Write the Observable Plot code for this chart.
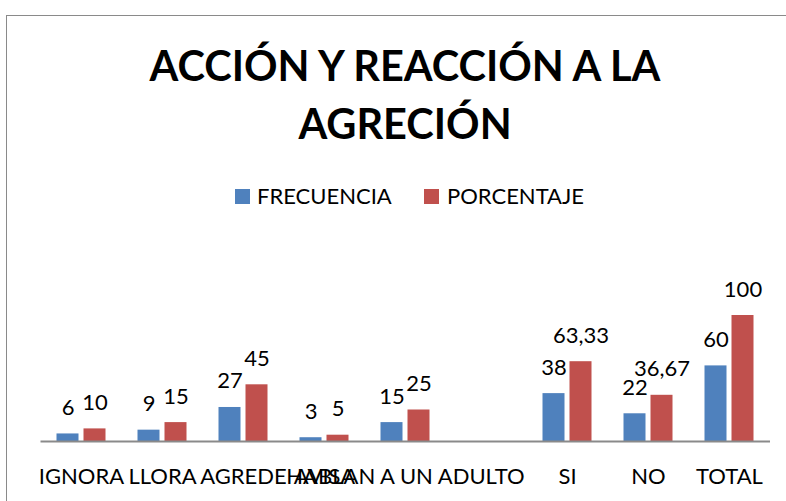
<!DOCTYPE html>
<html>
<head>
<meta charset="utf-8">
<script src="https://cdn.jsdelivr.net/npm/d3@7"></script>
<script src="https://cdn.jsdelivr.net/npm/@observablehq/plot@0.6"></script>
<style>
  html, body { margin: 0; padding: 0; background: #fff; }
  body { width: 786px; height: 501px; overflow: hidden; position: relative; font-family: Lato, "Open Sans", sans-serif; color: #000; }
  #frame { position: absolute; left: 6px; top: 15px; width: 830px; height: 540px; border: 1.5px solid #8a8a8a; box-sizing: border-box; }
  #title { position: absolute; left: 0; top: 36px; width: 810px; text-align: center; font-weight: 700; font-size: 41.5px; line-height: 58px; }
  #legend { position: absolute; left: 0; top: 0; width: 786px; height: 215px; }
  .sw { position: absolute; width: 15px; height: 15px; top: 189px; }
  .lt { position: absolute; top: 182px; font-size: 22px; line-height: 28px; white-space: nowrap; }
  #chart { position: absolute; left: 0; top: 215px; }
</style>
</head>
<body>
<div id="frame"></div>
<div id="title">ACCIÓN Y REACCIÓN A LA<br>AGRECIÓN</div>
<div id="legend"></div>
<div id="chart"></div>
<script>
const categories = ["IGNORA", "LLORA", "AGREDE", "AVISA", "HABLAN A UN ADULTO", "", "SI", "NO", "TOTAL"];
const frecuencia = [6, 9, 27, 3, 15, null, 38, 22, 60];
const porcentaje = [10, 15, 45, 5, 25, null, 63.33, 36.67, 100];
const series = ["FRECUENCIA", "PORCENTAJE"];
const colors = ["#4F81BD", "#C0504D"];

const fmt = v => String(v).replace(".", ",");
const rowsF = categories.map((c, i) => ({cat: c, value: frecuencia[i]})).filter(d => d.value != null);
const rowsP = categories.map((c, i) => ({cat: c, value: porcentaje[i]})).filter(d => d.value != null);

// legend
const legend = document.getElementById("legend");
const swLeft = [235, 424];
const txLeft = [257, 447];
series.forEach((s, i) => {
  const sw = document.createElement("div");
  sw.className = "sw"; sw.style.left = swLeft[i] + "px"; sw.style.background = colors[i];
  legend.appendChild(sw);
  const t = document.createElement("div");
  t.className = "lt"; t.style.left = txLeft[i] + "px"; t.textContent = s;
  legend.appendChild(t);
});

const off = 13.5;
const chart = Plot.plot({
  width: 786,
  height: 286,
  marginLeft: 40.5,
  marginRight: 16,
  marginTop: 74.8,
  marginBottom: 60,
  style: {fontFamily: "Lato, 'Open Sans', sans-serif", fontSize: "22px", color: "#000", background: "transparent"},
  x: {domain: categories, paddingInner: 0.728, paddingOuter: 0.364},
  y: {domain: [0, 120], axis: null},
  marks: [
    Plot.barY(rowsF, {x: "cat", y: "value", fill: colors[0], dx: -off}),
    Plot.barY(rowsP, {x: "cat", y: "value", fill: colors[1], dx: off}),
    Plot.ruleY([0], {stroke: "#8a8a8a", strokeWidth: 2}),
    Plot.text(rowsF, {x: "cat", y: "value", text: d => fmt(d.value), dx: -off, dy: -19, lineAnchor: "bottom", fontSize: 22, fill: "#000"}),
    Plot.text(rowsP, {x: "cat", y: "value", text: d => fmt(d.value), dx: off, dy: -19, lineAnchor: "bottom", fontSize: 22, fill: "#000"}),
    Plot.axisX({tickSize: 0, tickPadding: 27, fontSize: 22, fill: "#000", label: null})
  ]
});
document.getElementById("chart").appendChild(chart);
</script>
</body>
</html>
